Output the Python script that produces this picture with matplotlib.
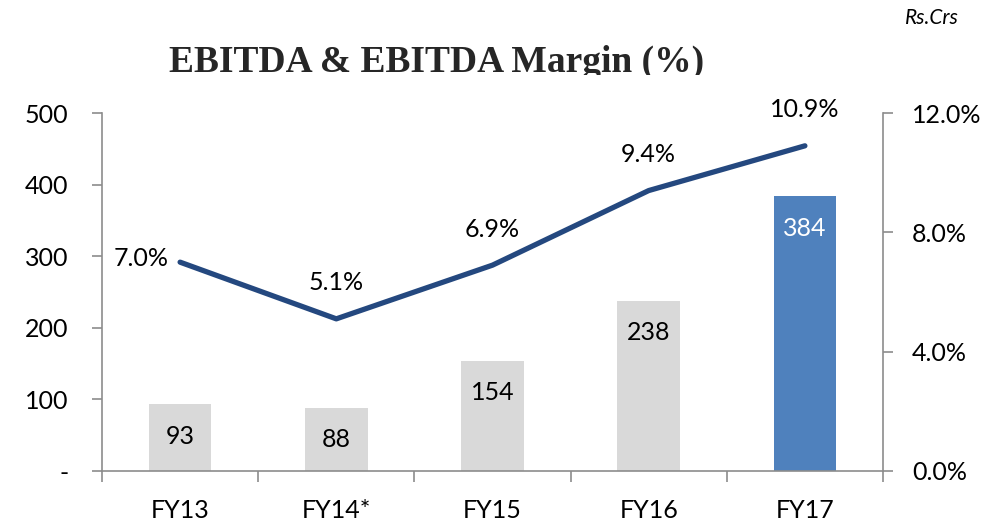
import matplotlib
matplotlib.use("Agg")
import matplotlib.pyplot as plt
from matplotlib.transforms import Bbox

categories = ["FY13", "FY14*", "FY15", "FY16", "FY17"]
ebitda = [93, 88, 154, 238, 384]
margin = [7.0, 5.1, 6.9, 9.4, 10.9]
left_ticks = [0, 100, 200, 300, 400, 500]
left_tick_labels = ["-", "100", "200", "300", "400", "500"]
right_ticks = [0.0, 4.0, 8.0, 12.0]

plt.rcParams["font.family"] = ["Lato", "DejaVu Sans"]

W, H, DPI = 987, 528, 100
fig = plt.figure(figsize=(W / DPI, H / DPI), dpi=DPI)
ax = fig.add_axes([102 / W, 57 / H, (883 - 102) / W, 358 / H])
ax2 = ax.twinx()

spine_col = "#8C8C8C"
bar_colors = ["#D9D9D9"] * 4 + ["#4F81BD"]
x = list(range(len(categories)))
fs = 18

bars = ax.bar(x, ebitda, width=0.4, color=bar_colors, zorder=2)
for b, v, c in zip(bars, ebitda, bar_colors):
    ax.annotate(f"{v}", (b.get_x() + b.get_width() / 2, v),
                xytext=(0, -23), textcoords="offset points",
                ha="center", va="center", fontsize=fs,
                color="white" if c == "#4F81BD" else "black")

ax.set_xlim(-0.5, len(categories) - 0.5)
ax.set_ylim(0, 500)
ax.set_yticks(left_ticks)
ax.set_yticklabels(left_tick_labels)
ax.set_xticks(x)
ax.set_xticklabels(categories)
ax.set_xticks([i - 0.5 for i in range(len(categories) + 1)], minor=True)
ax.tick_params(axis="x", which="major", length=0, pad=20, labelsize=fs)
ax.tick_params(axis="x", which="minor", length=8, color=spine_col, width=1.2)
ax.tick_params(axis="y", length=7, color=spine_col, width=1.2, labelsize=fs, pad=17)

ax2.plot(x, margin, color="#24487F", lw=3.8, solid_capstyle="round", zorder=3)
ax2.set_ylim(0, 12)
ax2.set_yticks(right_ticks)
ax2.set_yticklabels([f"{t:.1f}%" for t in right_ticks])
ax2.tick_params(axis="y", length=7, color=spine_col, width=1.2, labelsize=fs, pad=14)

for i, m in enumerate(margin):
    if i == 0:
        ax2.annotate(f"{m:.1f}%", (i, m), xytext=(-8, 3), textcoords="offset points",
                     ha="right", va="center", fontsize=fs)
    else:
        ax2.annotate(f"{m:.1f}%", (i, m), xytext=(0, 26), textcoords="offset points",
                     ha="center", va="center", fontsize=fs)

for a in (ax, ax2):
    a.spines["top"].set_visible(False)
    for s in ("left", "right", "bottom"):
        a.spines[s].set_color(spine_col)
        a.spines[s].set_linewidth(1.2)
ax.spines["right"].set_visible(False)
ax2.spines["left"].set_visible(False)
ax2.spines["bottom"].set_visible(False)

title = fig.text(437 / W, 1 - 72 / H, "EBITDA & EBITDA Margin (%)",
                 family="Liberation Serif", weight="bold", fontsize=27,
                 ha="center", va="baseline", color="#262626")
title.set_clip_box(Bbox.from_extents(0, H - 75, W, H))

fig.text(932 / W, 1 - 18 / H, "Rs.Crs", style="italic", fontsize=15,
         ha="center", va="center")

fig.savefig("out.png", dpi=DPI)
